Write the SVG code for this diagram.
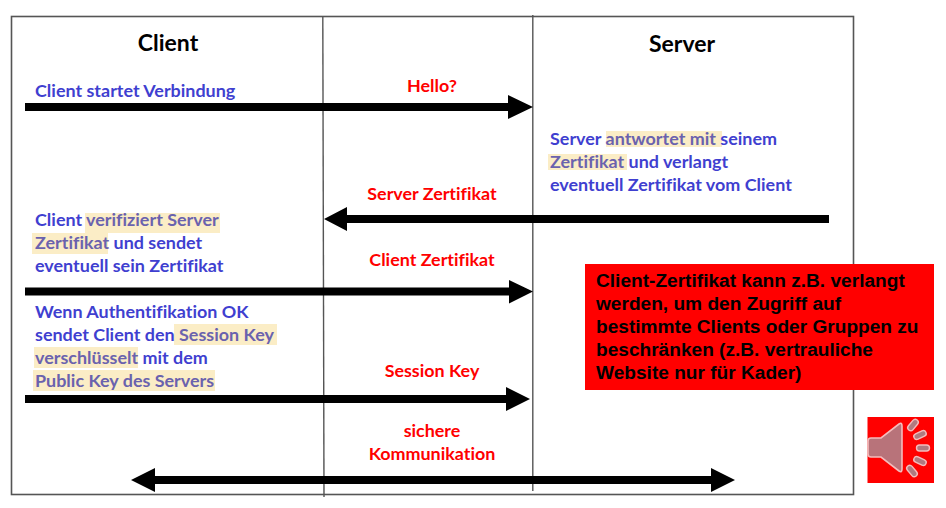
<svg xmlns="http://www.w3.org/2000/svg" width="946" height="508" viewBox="0 0 946 508">
<style>
text{font-family:"Lato","Liberation Sans",sans-serif;font-weight:700;font-variant-ligatures:none}
.h{font-size:23px;fill:#000;text-anchor:middle}
.b{font-size:17.95px;fill:#3f3fd0}
.g{fill:#6a62ae}
.r{font-size:17.9px;fill:#ff0000;text-anchor:middle}
.y{fill:#fbedc6}
.k{font-family:"Liberation Sans",sans-serif;font-size:19.1px;fill:#000}
.l{stroke:#555;fill:none}
.a{fill:#000}
</style>
<rect width="946" height="508" fill="#fff"/>
<g id="frame">
<rect class="l" x="11.5" y="16.5" width="842" height="478" stroke-width="1.6"/>
<line class="l" x1="322.8" y1="16" x2="324" y2="497" stroke-width="1.4"/>
<line class="l" x1="532.8" y1="15" x2="532.8" y2="491" stroke-width="1.4"/>
</g>
<g id="connectors">
<polygon class="a" points="25,103 508,103 508,95 533,107 508,119 508,111 25,111"/>
<polygon class="a" points="829,215 347,215 347,207 324,219 347,231 347,223 829,223"/>
<polygon class="a" points="25,287.500 509,287.500 509,280 533,291.500 509,303.500 509,295.500 25,295.500"/>
<polygon class="a" points="25,395 506,395 506,387 530,399 506,411 506,403 25,403"/>
<polygon class="a" points="155,476 711,476 711,468 735,480 711,492 711,484 155,484 155,492 131,480 155,468"/>
</g>
<g id="client-title"><text class="h" x="168" y="51">Client</text></g>
<g id="server-title"><text class="h" x="682" y="52">Server</text></g>
<g id="step-1"><text class="b" x="35" y="97">Client startet Verbindung</text></g>
<g id="step-2">
<rect class="y" x="606" y="131" width="116" height="16"/>
<rect class="y" x="548" y="154" width="79" height="16"/>
<text class="b" x="550" y="145">Server <tspan class="g">antwortet mit </tspan>seinem</text>
<text class="b" x="550" y="168"><tspan class="g">Zertifikat</tspan> und verlangt</text>
<text class="b" x="550" y="191">eventuell Zertifikat vom Client</text>
</g>
<g id="step-3">
<rect class="y" x="85" y="213" width="135" height="20"/>
<rect class="y" x="32" y="233" width="76" height="21"/>
<text class="b" x="35" y="226">Client <tspan class="g">verifiziert Server</tspan></text>
<text class="b" x="35" y="249"><tspan class="g">Zertifikat</tspan> und sendet</text>
<text class="b" x="35" y="272">eventuell sein Zertifikat</text>
</g>
<g id="step-4">
<rect class="y" x="174" y="324" width="103" height="21"/>
<rect class="y" x="34" y="347" width="104" height="21"/>
<rect class="y" x="33" y="370" width="182" height="21"/>
<text class="b" x="35" y="318">Wenn Authentifikation OK</text>
<text class="b" x="35" y="341">sendet Client den <tspan class="g">Session Key</tspan></text>
<text class="b" x="35" y="364"><tspan class="g">verschlüsselt</tspan> mit dem</text>
<text class="b g" x="35" y="387">Public Key des Servers</text>
</g>
<g id="msg-hello"><text class="r" x="432" y="92">Hello?</text></g>
<g id="msg-server-cert"><text class="r" x="432" y="200">Server Zertifikat</text></g>
<g id="msg-client-cert"><text class="r" x="432" y="266">Client Zertifikat</text></g>
<g id="msg-session-key"><text class="r" x="432" y="377">Session Key</text></g>
<g id="msg-secure">
<text class="r" x="432" y="437">sichere</text>
<text class="r" x="432" y="460">Kommunikation</text>
</g>
<g id="note">
<rect x="585" y="264" width="349" height="126" fill="#ff0000"/>
<text class="k" x="596" y="287">Client-Zertifikat kann z.B. verlangt</text>
<text class="k" x="596" y="310">werden, um den Zugriff auf</text>
<text class="k" x="596" y="333">bestimmte Clients oder Gruppen zu</text>
<text class="k" x="596" y="356">beschränken (z.B. vertrauliche</text>
<text class="k" x="596" y="379">Website nur für Kader)</text>
</g>
<g id="speaker">
<rect x="867.500" y="417" width="66.500" height="66" fill="#ff0000"/>
<path d="M868,441 Q868,438 871,438 L881,438 L899,424 Q902,422 902,426 L902,469 Q902,473 899,471 L881,457 L871,457 Q868,457 868,454 Z" fill="#b8737a" stroke="#f4bcbc" stroke-width="1.6"/>
<g fill="#b07a80" stroke="#f4bcbc" stroke-width="1.400">
<rect x="-6.500" y="-3" width="13" height="6" rx="3" transform="translate(913,425) rotate(-50)"/>
<rect x="-6.500" y="-3" width="13" height="6" rx="3" transform="translate(920,435) rotate(-25)"/>
<rect x="-6.500" y="-3" width="13" height="6" rx="3" transform="translate(923,448)"/>
<rect x="-6.500" y="-3" width="13" height="6" rx="3" transform="translate(920,461) rotate(25)"/>
<rect x="-6.500" y="-3" width="13" height="6" rx="3" transform="translate(912,471) rotate(50)"/>
</g>
</g>
</svg>
